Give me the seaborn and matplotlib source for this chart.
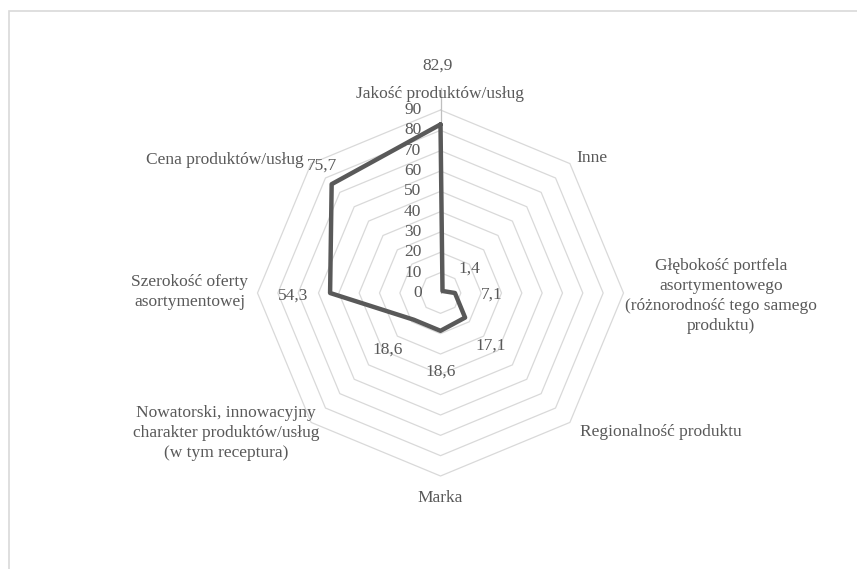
import numpy as np
import pandas as pd
import matplotlib
matplotlib.use("Agg")
import matplotlib.pyplot as plt
import seaborn as sns
from matplotlib.patches import Rectangle
from matplotlib import font_manager

categories = [
    "Jakość produktów/usług",
    "Inne",
    "Głębokość portfela\nasortymentowego\n(różnorodność tego samego\nproduktu)",
    "Regionalność produktu",
    "Marka",
    "Nowatorski, innowacyjny\ncharakter produktów/usług\n(w tym receptura)",
    "Szerokość oferty\nasortymentowej",
    "Cena produktów/usług",
]
values = [82.9, 1.4, 7.1, 17.1, 18.6, 18.6, 54.3, 75.7]
value_labels = ["82,9", "1,4", "7,1", "17,1", "18,6", "18,6", "54,3", "75,7"]
ring_ticks = [0, 10, 20, 30, 40, 50, 60, 70, 80, 90]

sns.set_style("white")
serif_names = [f.name for f in font_manager.fontManager.ttflist if "Serif" in f.name and "Liberation" in f.name]
fam = serif_names[0] if serif_names else "DejaVu Serif"
plt.rcParams["font.family"] = "serif"
plt.rcParams["font.serif"] = [fam, "DejaVu Serif"]

TXT = "#595959"
GRID = "#d9d9d9"
FS = 12.5

W, H = 857, 569
fig = plt.figure(figsize=(W / 100, H / 100), dpi=100)
cx, cy, R = 440.5, 293, 183
ax = fig.add_axes([(cx - R) / W, (H - cy - R) / H, 2 * R / W, 2 * R / H], polar=True)
ax.set_theta_zero_location("N")
ax.set_theta_direction(-1)

n = len(categories)
theta = np.arange(n) * 2 * np.pi / n

# octagonal rings
ring_theta = np.append(theta, theta[0])
for r in ring_ticks[1:]:
    ax.plot(ring_theta, [r] * (n + 1), color=GRID, lw=0.9, zorder=1, clip_on=False)

# vertical value axis
ax.plot([0, 0], [0, 101], color="#bfbfbf", lw=0.9, zorder=1, clip_on=False)

# data polygon
df = pd.DataFrame({"theta": np.append(theta, theta[0]),
                   "value": values + [values[0]]})
sns.lineplot(data=df, x="theta", y="value", sort=False, ax=ax,
             color="#595959", linewidth=3.2, zorder=3, estimator=None)
ax.set_xlabel("")
ax.set_ylabel("")
ax.set_xticks([])
ax.set_yticks([])
ax.set_ylim(0, 90)
ax.grid(False)
ax.spines["polar"].set_visible(False)
ax.set_facecolor("none")

tkw = dict(fontsize=FS, color=TXT, family="serif")

# radial tick labels
for r in ring_ticks:
    ax.annotate(str(r), xy=(0, r), xytext=(-19, 0), textcoords="offset pixels",
                ha="right", va="center", **tkw)

# data labels (offsets in pixels from vertex)
offsets = [(-2.5, 59), (26.5, 22), (37, -2), (26, -28), (0, -41), (-26, -30), (-37, -3), (-10, 19)]
for t, v, lab, (dx, dy) in zip(theta, values, value_labels, offsets):
    ax.annotate(lab, xy=(t, v), xytext=(dx, dy), textcoords="offset pixels",
                ha="center", va="center", zorder=4, **tkw)

# category labels (polar positions: angle deg, radius)
cat_pos = [(0, 97.9), (48.3, 99.8), (90.6, 138), (122.2, 128.2), (180, 100.8),
           (236.9, 126), (270.2, 123.2), (301.7, 124.5)]
for lab, (deg, r) in zip(categories, cat_pos):
    ax.text(np.deg2rad(deg), r, lab, ha="center", va="center",
            linespacing=1.32, multialignment="center", clip_on=False, **tkw)

# chart border
fig.patches.append(Rectangle((9 / W, -0.02), 1.05, 1 - 11 / H + 0.02,
                             transform=fig.transFigure, fill=False,
                             edgecolor=GRID, lw=1.2))

fig.savefig("out.png", dpi=100)
